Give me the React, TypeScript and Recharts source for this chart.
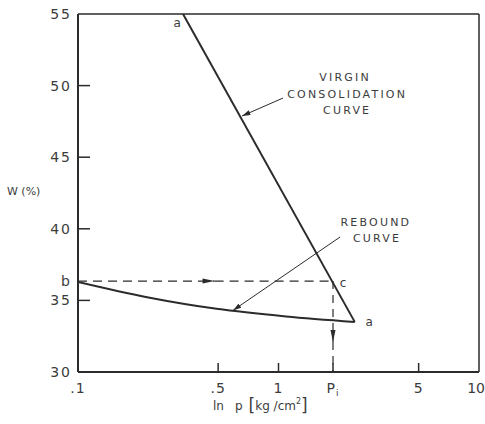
import React from "react";
import {
  ComposedChart,
  Line,
  XAxis,
  YAxis,
  ReferenceLine,
  ReferenceDot,
} from "recharts";

// axis ticks
const X_TICKS = [0.1, 0.5, 1, 1.87, 5, 10];
const Y_TICKS = [30, 35, 36.35, 40, 45, 50, 55];

// virgin consolidation curve (straight in w vs log p)
const virgin = [
  { p: 0.334, w: 55 },
  { p: 2.4, w: 33.5 },
];

// rebound curve from a back to b
const rebound = [
  { p: 0.1, w: 36.28 },
  { p: 0.221, w: 35.22 },
  { p: 0.491, w: 34.41 },
  { p: 1.09, w: 33.88 },
  { p: 2.4, w: 33.5 },
];

// dashed construction lines b -> c -> Pi
const bToArrow = [
  { p: 0.1, w: 36.35 },
  { p: 0.48, w: 36.35 },
];
const arrowToC = [
  { p: 0.48, w: 36.35 },
  { p: 1.87, w: 36.35 },
];
const cToArrow = [
  { p: 1.87, w: 36.35 },
  { p: 1.87, w: 32.1 },
];
const arrowToAxis = [
  { p: 1.87, w: 32.1 },
  { p: 1.87, w: 30 },
];

// leader lines from the notes to the curves
const virginPointer = [
  { p: 1.053, w: 49.13 },
  { p: 0.658, w: 47.88 },
];
const reboundPointer = [
  { p: 2.03, w: 39.43 },
  { p: 0.593, w: 34.3 },
];

const INK = "#2b2b2b";
const TXT = "#3c3c3c";
const FONT = "'DejaVu Sans', sans-serif";

const xLabel = (v: number) => {
  if (v === 0.1) return ".1";
  if (v === 0.5) return ".5";
  return String(v);
};

const XTick = (props: any) => {
  const { x, y, payload } = props;
  const v = payload.value;
  const edge = v === 0.1 || v === 10;
  return (
    <g>
      {!edge && (
        <line x1={x} y1={y} x2={x} y2={y - 9} stroke={INK} strokeWidth={1.5} />
      )}
      <text
        x={v === 10 ? 485 : x}
        y={y + 21}
        textAnchor={v === 10 ? "end" : "middle"}
        fontSize={14}
        fontFamily={FONT}
        fill={TXT}
        letterSpacing={v === 10 ? 0 : 1}
      >
        {v === 1.87 ? (
          <>
            P<tspan fontSize={9} dy={3}>i</tspan>
          </>
        ) : (
          xLabel(v)
        )}
      </text>
    </g>
  );
};

const YTick = (props: any) => {
  const { x, y, payload } = props;
  const v = payload.value;
  const isB = v === 36.35;
  const edge = v === 30 || v === 55;
  return (
    <g>
      {!isB && !edge && (
        <line x1={x} y1={y} x2={x + 12} y2={y} stroke={INK} strokeWidth={1.5} />
      )}
      <text
        x={x - 6}
        y={y}
        dy="0.36em"
        textAnchor="end"
        fontSize={14}
        fontFamily={FONT}
        fill={TXT}
        letterSpacing={2}
      >
        {isB ? "b" : v}
      </text>
    </g>
  );
};

const YTitle = () => (
  <text x={7} y={195} fontSize={11} fontFamily={FONT} fill={TXT}>
    W (%)
  </text>
);

const XTitle = () => (
  <text x={213} y={410} fontSize={12} fontFamily={FONT} fill={TXT}>
    ln
    <tspan dx={11}>p</tspan>
    <tspan dx={6} fontSize={17} dy={1}>[</tspan>
    <tspan dy={-1}>kg /cm</tspan>
    <tspan fontSize={8} dy={-6}>2</tspan>
    <tspan fontSize={17} dy={7}>]</tspan>
  </text>
);

const note = (value: string, size = 11) => ({
  value,
  position: "center" as const,
  fill: TXT,
  fontSize: size,
  fontFamily: FONT,
  letterSpacing: size === 11 ? 2.2 : 0,
});

export default function App() {
  return (
    <div
      style={{
        position: "absolute",
        left: 0,
        top: 0,
        width: 485,
        height: 424,
        background: "#fff",
      }}
    >
      <svg width={0} height={0} style={{ position: "absolute" }}>
        <defs>
          <marker
            id="headBig"
            viewBox="0 0 12 6"
            refX={12}
            refY={3}
            markerWidth={13}
            markerHeight={6}
            markerUnits="userSpaceOnUse"
            orient="auto"
          >
            <path d="M0,0.5 L12,3 L0,5.5 z" fill={INK} />
          </marker>
          <marker
            id="headSmall"
            viewBox="0 0 10 6"
            refX={10}
            refY={3}
            markerWidth={9}
            markerHeight={5}
            markerUnits="userSpaceOnUse"
            orient="auto"
          >
            <path d="M0,0 L10,3 L0,6 z" fill={INK} />
          </marker>
        </defs>
      </svg>
      <ComposedChart
        width={485}
        height={424}
        margin={{ top: 14, right: 6, bottom: 22, left: 0 }}
      >
        <XAxis
          dataKey="p"
          type="number"
          scale="log"
          domain={[0.1, 10]}
          ticks={X_TICKS}
          interval={0}
          allowDataOverflow
          height={30}
          axisLine={{ stroke: INK, strokeWidth: 2 }}
          tickLine={false}
          tickSize={0}
          tickMargin={0}
          tick={<XTick />}
          label={<XTitle />}
        />
        <YAxis
          type="number"
          domain={[30, 55]}
          ticks={Y_TICKS}
          interval={0}
          allowDataOverflow
          width={78}
          axisLine={{ stroke: INK, strokeWidth: 2 }}
          tickLine={false}
          tickSize={0}
          tickMargin={0}
          tick={<YTick />}
          label={<YTitle />}
        />
        <ReferenceLine y={55} stroke={INK} strokeWidth={1.5} />
        <ReferenceLine x={10} stroke={INK} strokeWidth={1.5} />

        <Line data={virgin} dataKey="w" type="linear" stroke={INK} strokeWidth={2} dot={false} isAnimationActive={false} />
        <Line data={rebound} dataKey="w" type="monotone" stroke={INK} strokeWidth={2} dot={false} isAnimationActive={false} />

        <Line data={bToArrow} dataKey="w" type="linear" stroke={INK} strokeWidth={1.2} strokeDasharray="9 6" markerEnd="url(#headBig)" dot={false} isAnimationActive={false} />
        <Line data={arrowToC} dataKey="w" type="linear" stroke={INK} strokeWidth={1.2} strokeDasharray="9 6" dot={false} isAnimationActive={false} />
        <Line data={cToArrow} dataKey="w" type="linear" stroke={INK} strokeWidth={1.2} strokeDasharray="8 6" markerEnd="url(#headBig)" dot={false} isAnimationActive={false} />
        <Line data={arrowToAxis} dataKey="w" type="linear" stroke={INK} strokeWidth={1.2} strokeDasharray="8 6" dot={false} isAnimationActive={false} />

        <Line data={virginPointer} dataKey="w" type="linear" stroke={INK} strokeWidth={1} markerEnd="url(#headSmall)" dot={false} isAnimationActive={false} />
        <Line data={reboundPointer} dataKey="w" type="linear" stroke={INK} strokeWidth={1} markerEnd="url(#headSmall)" dot={false} isAnimationActive={false} />

        <ReferenceDot x={2.15} y={50.6} r={0} label={note("VIRGIN")} />
        <ReferenceDot x={2.2} y={49.41} r={0} label={note("CONSOLIDATION")} />
        <ReferenceDot x={2.2} y={48.3} r={0} label={note("CURVE")} />
        <ReferenceDot x={3.06} y={40.47} r={0} label={note("REBOUND")} />
        <ReferenceDot x={3.1} y={39.36} r={0} label={note("CURVE")} />
        <ReferenceDot x={0.312} y={54.37} r={0} label={note("a", 12)} />
        <ReferenceDot x={2.83} y={33.49} r={0} label={note("a", 12)} />
        <ReferenceDot x={2.1} y={36.21} r={0} label={note("c", 12)} />
      </ComposedChart>
    </div>
  );
}
